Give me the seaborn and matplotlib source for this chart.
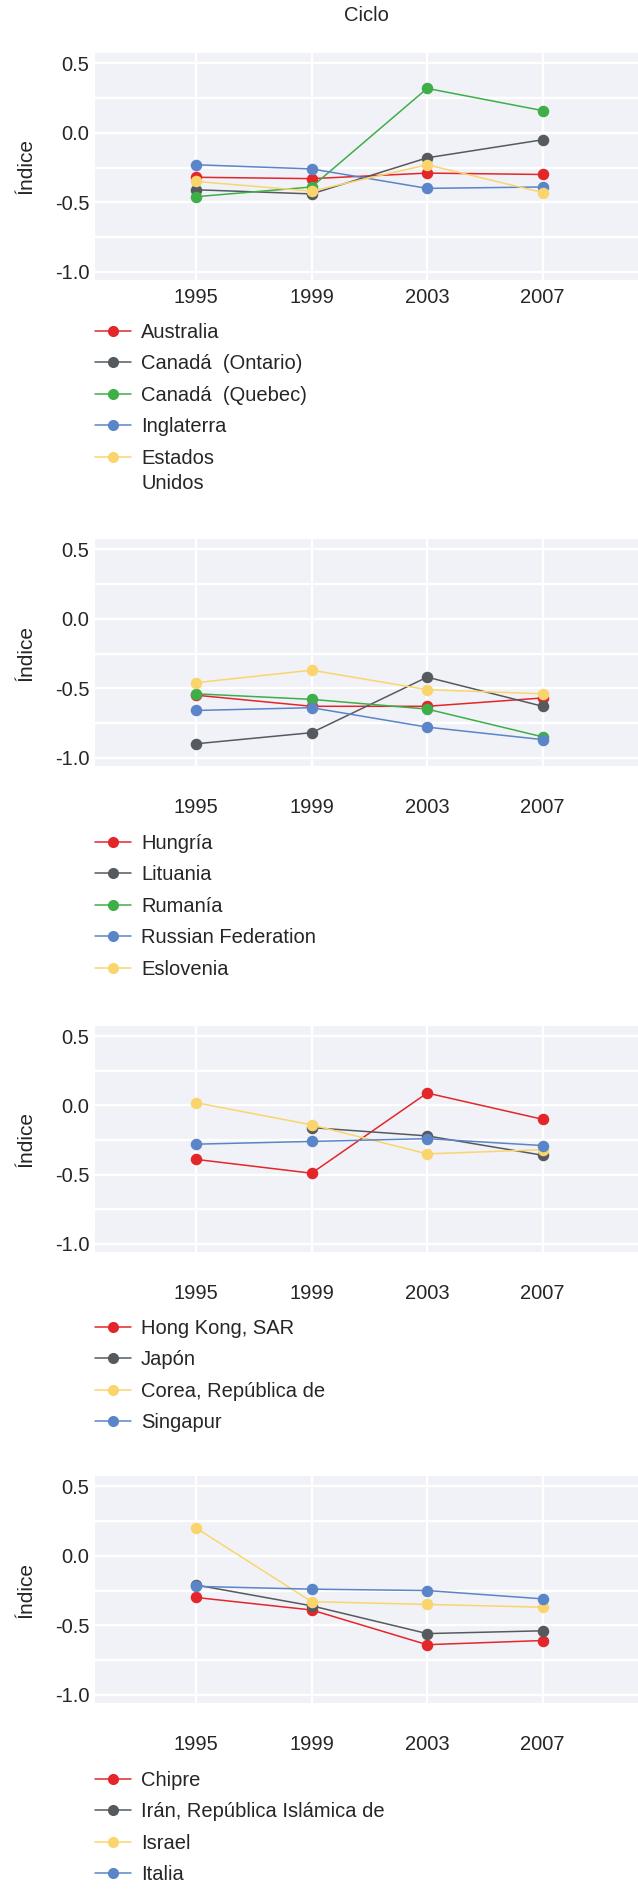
import matplotlib
matplotlib.use('Agg')
import numpy as np
import pandas as pd
import matplotlib.pyplot as plt
from matplotlib import font_manager
from matplotlib.lines import Line2D
import seaborn as sns

# Datos
ciclos = [1995, 1999, 2003, 2007]

paises_1 = ['Australia', 'Canadá  (Ontario)', 'Canadá  (Quebec)', 'Inglaterra', 'Estados\nUnidos']
valores_1 = [
    [-0.32, -0.33, -0.29, -0.30],
    [-0.41, -0.44, -0.18, -0.05],
    [-0.46, -0.39, 0.32, 0.16],
    [-0.23, -0.26, -0.40, -0.39],
    [-0.35, -0.42, -0.23, -0.43],
]

paises_2 = ['Hungría', 'Lituania', 'Rumanía', 'Russian Federation', 'Eslovenia']
valores_2 = [
    [-0.55, -0.63, -0.63, -0.57],
    [-0.90, -0.82, -0.42, -0.63],
    [-0.54, -0.58, -0.65, -0.85],
    [-0.66, -0.64, -0.78, -0.87],
    [-0.46, -0.37, -0.51, -0.54],
]

paises_3 = ['Hong Kong, SAR', 'Japón', 'Corea, República de', 'Singapur']
valores_3 = [
    [-0.39, -0.49, 0.09, -0.10],
    [np.nan, -0.16, -0.22, -0.36],
    [0.02, -0.14, -0.35, -0.32],
    [-0.28, -0.26, -0.24, -0.29],
]

paises_4 = ['Chipre', 'Irán, República Islámica de', 'Israel', 'Italia']
valores_4 = [
    [-0.30, -0.39, -0.64, -0.61],
    [-0.21, -0.36, -0.56, -0.54],
    [0.20, -0.33, -0.35, -0.37],
    [-0.22, -0.24, -0.25, -0.31],
]

# etiquetas que en el original salen con letra estrecha
estrechas = ['Hong Kong, SAR', 'Corea, República de', 'Irán, República Islámica de']

y_ticks = [-1.0, -0.5, 0.0, 0.5]

ROJO = '#E3262A'
GRIS = '#555A5E'
VERDE = '#3EAE49'
AZUL = '#5A85C8'
AMARILLO = '#FAD56E'

colores_1 = [ROJO, GRIS, VERDE, AZUL, AMARILLO]
colores_2 = [ROJO, GRIS, VERDE, AZUL, AMARILLO]
colores_3 = [ROJO, GRIS, AMARILLO, AZUL]
colores_4 = [ROJO, GRIS, AMARILLO, AZUL]

sns.set_theme(style='darkgrid', rc={
    'axes.facecolor': '#F1F2F7',
    'grid.color': 'white',
    'grid.linewidth': 1.7,
    'axes.unicode_minus': False,
})
plt.rcParams['font.family'] = ['Liberation Sans', 'DejaVu Sans']

try:
    font_manager.findfont('Liberation Sans Narrow', fallback_to_default=False)
    fam_estrecha = ['Liberation Sans Narrow', 'Liberation Sans']
except Exception:
    fam_estrecha = ['Liberation Sans', 'DejaVu Sans']

FS = 14.5
W, H = 638, 1892
fig = plt.figure(figsize=(W / 100, H / 100), dpi=100)

# (arriba, abajo) de cada panel y arriba de la leyenda, en píxeles
paneles = [
    (paises_1, valores_1, colores_1, 53, 280, 323, 6),
    (paises_2, valores_2, colores_2, 539, 766, 834, 23),
    (paises_3, valores_3, colores_3, 1026, 1252, 1319, 23),
    (paises_4, valores_4, colores_4, 1476, 1703, 1771, 23),
]

extras = []
for i, (paises, valores, colores, top, bottom, ley_top, xpad) in enumerate(paneles):
    ax = fig.add_axes([95 / W, 1 - bottom / H, (W - 95) / W, (bottom - top) / H])

    df = pd.DataFrame({
        'ciclo': np.tile(ciclos, len(paises)),
        'indice': np.concatenate(valores),
        'pais': np.repeat(paises, len(ciclos)),
    })
    paleta = dict(zip(paises, colores))
    sns.lineplot(data=df, x='ciclo', y='indice', hue='pais', hue_order=paises,
                 palette=paleta, marker='o', markersize=8.3, markeredgewidth=0,
                 linewidth=1.1, legend=False, ax=ax)

    ax.set_xlim(1991.5, 2010.3)
    ax.set_ylim(-1.06, 0.575)
    ax.set_xticks(ciclos)
    ax.set_xticklabels([str(c) for c in ciclos])
    ax.set_yticks(y_ticks)
    ax.set_yticklabels([f'{v:.1f}' for v in y_ticks])
    ax.set_yticks([-0.75, -0.25, 0.25], minor=True)
    ax.grid(True, which='both', axis='y')
    ax.tick_params(axis='both', which='both', length=0, labelsize=FS, colors='0.15')
    ax.tick_params(axis='x', pad=xpad)
    ax.tick_params(axis='y', pad=4)
    ax.set_xlabel('')
    ax.set_ylabel('Índice', fontsize=15, labelpad=14)
    for s in ax.spines.values():
        s.set_visible(False)
    if i == 0:
        ax.set_title('Ciclo', fontsize=FS, pad=23, color='0.15')

    handles = [Line2D([], [], color=c, marker='o', markersize=8, markeredgewidth=0,
                      linewidth=1.1) for c in colores]
    etiquetas = [p.split('\n')[0] for p in paises]
    ley = ax.legend(handles, etiquetas, loc='upper left',
                    bbox_to_anchor=(95 / W, 1 - ley_top / H),
                    bbox_transform=fig.transFigure, frameon=False,
                    borderpad=0, borderaxespad=0, fontsize=FS,
                    handlelength=1.79, handletextpad=0.5, labelspacing=0.62)
    for p, t in zip(paises, ley.get_texts()):
        t.set_color('0.15')
        if p in estrechas:
            t.set_family(fam_estrecha)
        if '\n' in p:
            extras.append((t, p.split('\n', 1)[1]))

# segunda línea de etiquetas de varias líneas
fig.canvas.draw()
for t, resto in extras:
    bb = t.get_window_extent()
    x, y = fig.transFigure.inverted().transform((bb.x0, bb.y0 - 25))
    fig.text(x, y, resto, fontsize=FS, color='0.15', va='bottom', ha='left')

fig.savefig('out.png', dpi=100)
